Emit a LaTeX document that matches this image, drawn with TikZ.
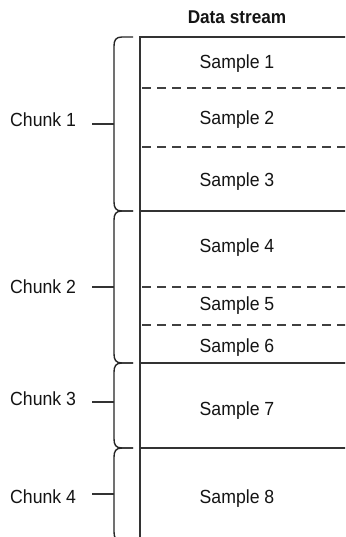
\documentclass[tikz,border=0pt]{standalone}
\usepackage{fontspec}
\setmainfont[FakeStretch=0.93]{Liberation Sans}
\begin{document}
\begin{tikzpicture}[x=1pt,y=-1pt,
  txt/.style={inner sep=0pt, anchor=base, text=black!92, font=\fontsize{19}{22}\selectfont},
  hdr/.style={txt, font=\fontsize{18.5}{22}\selectfont\bfseries},
  boxline/.style={draw=black!80, line width=1.2pt},
  sepdash/.style={draw=black!75, line width=1.1pt, dash pattern=on 9pt off 6pt},
  brc/.style={draw=black!85, line width=1.4pt, line join=round},
  tick/.style={draw=black!80, line width=1.1pt}]
\clip (0,0) rectangle (345,537);
\fill[white] (0,0) rectangle (345,537);

% header
\node[hdr] (hdr) at (237,24) {Data stream};

% box outline
\coordinate (boxBL) at (140,537);
\coordinate (boxTL) at (140,37);
\coordinate (boxTR) at (346,37);
\draw[boxline] (boxBL) -- (boxTL) -- (boxTR);

% solid chunk separators
\foreach \y/\n in {211/a,363/b,448/c}{
  \coordinate (sl\n) at (140,\y);
  \coordinate (sr\n) at (346,\y);
  \draw[boxline] (sl\n) -- (sr\n);
}
% dashed sample separators
\foreach \y/\n in {88/a,147/b,287/c,325/d}{
  \coordinate (dl\n) at (142,\y);
  \coordinate (dr\n) at (346,\y);
  \draw[sepdash] (dl\n) -- (dr\n);
}

% samples
\node[txt] (s1) at (237,69) {Sample 1};
\node[txt] (s2) at (237,125) {Sample 2};
\node[txt] (s3) at (237,187) {Sample 3};
\node[txt] (s4) at (237,252) {Sample 4};
\node[txt] (s5) at (237,310) {Sample 5};
\node[txt] (s6) at (237,352) {Sample 6};
\node[txt] (s7) at (237,415) {Sample 7};
\node[txt] (s8) at (237,503) {Sample 8};

% braces
\foreach \t/\b in {37/211,211/363,363/448,448/541}{
  \draw[brc] (133,\t) -- (122,\t) .. controls (116,\t) and (114,\t+3) .. (114,\t+9)
    -- (114,\b-9) .. controls (114,\b-3) and (116,\b) .. (122,\b) -- (133,\b);
}

% chunk labels and ticks
\node[txt, anchor=base west] (c1) at (10,127) {Chunk 1};
\node[txt, anchor=base west] (c2) at (10,293) {Chunk 2};
\node[txt, anchor=base west] (c3) at (10,405) {Chunk 3};
\node[txt, anchor=base west] (c4) at (10,503) {Chunk 4};
\foreach \y/\n in {124/1,287/2,402/3,494/4}{
  \coordinate (ta\n) at (92,\y);
  \coordinate (tb\n) at (114,\y);
  \draw[tick] (ta\n) -- (tb\n);
}
\end{tikzpicture}
\end{document}
